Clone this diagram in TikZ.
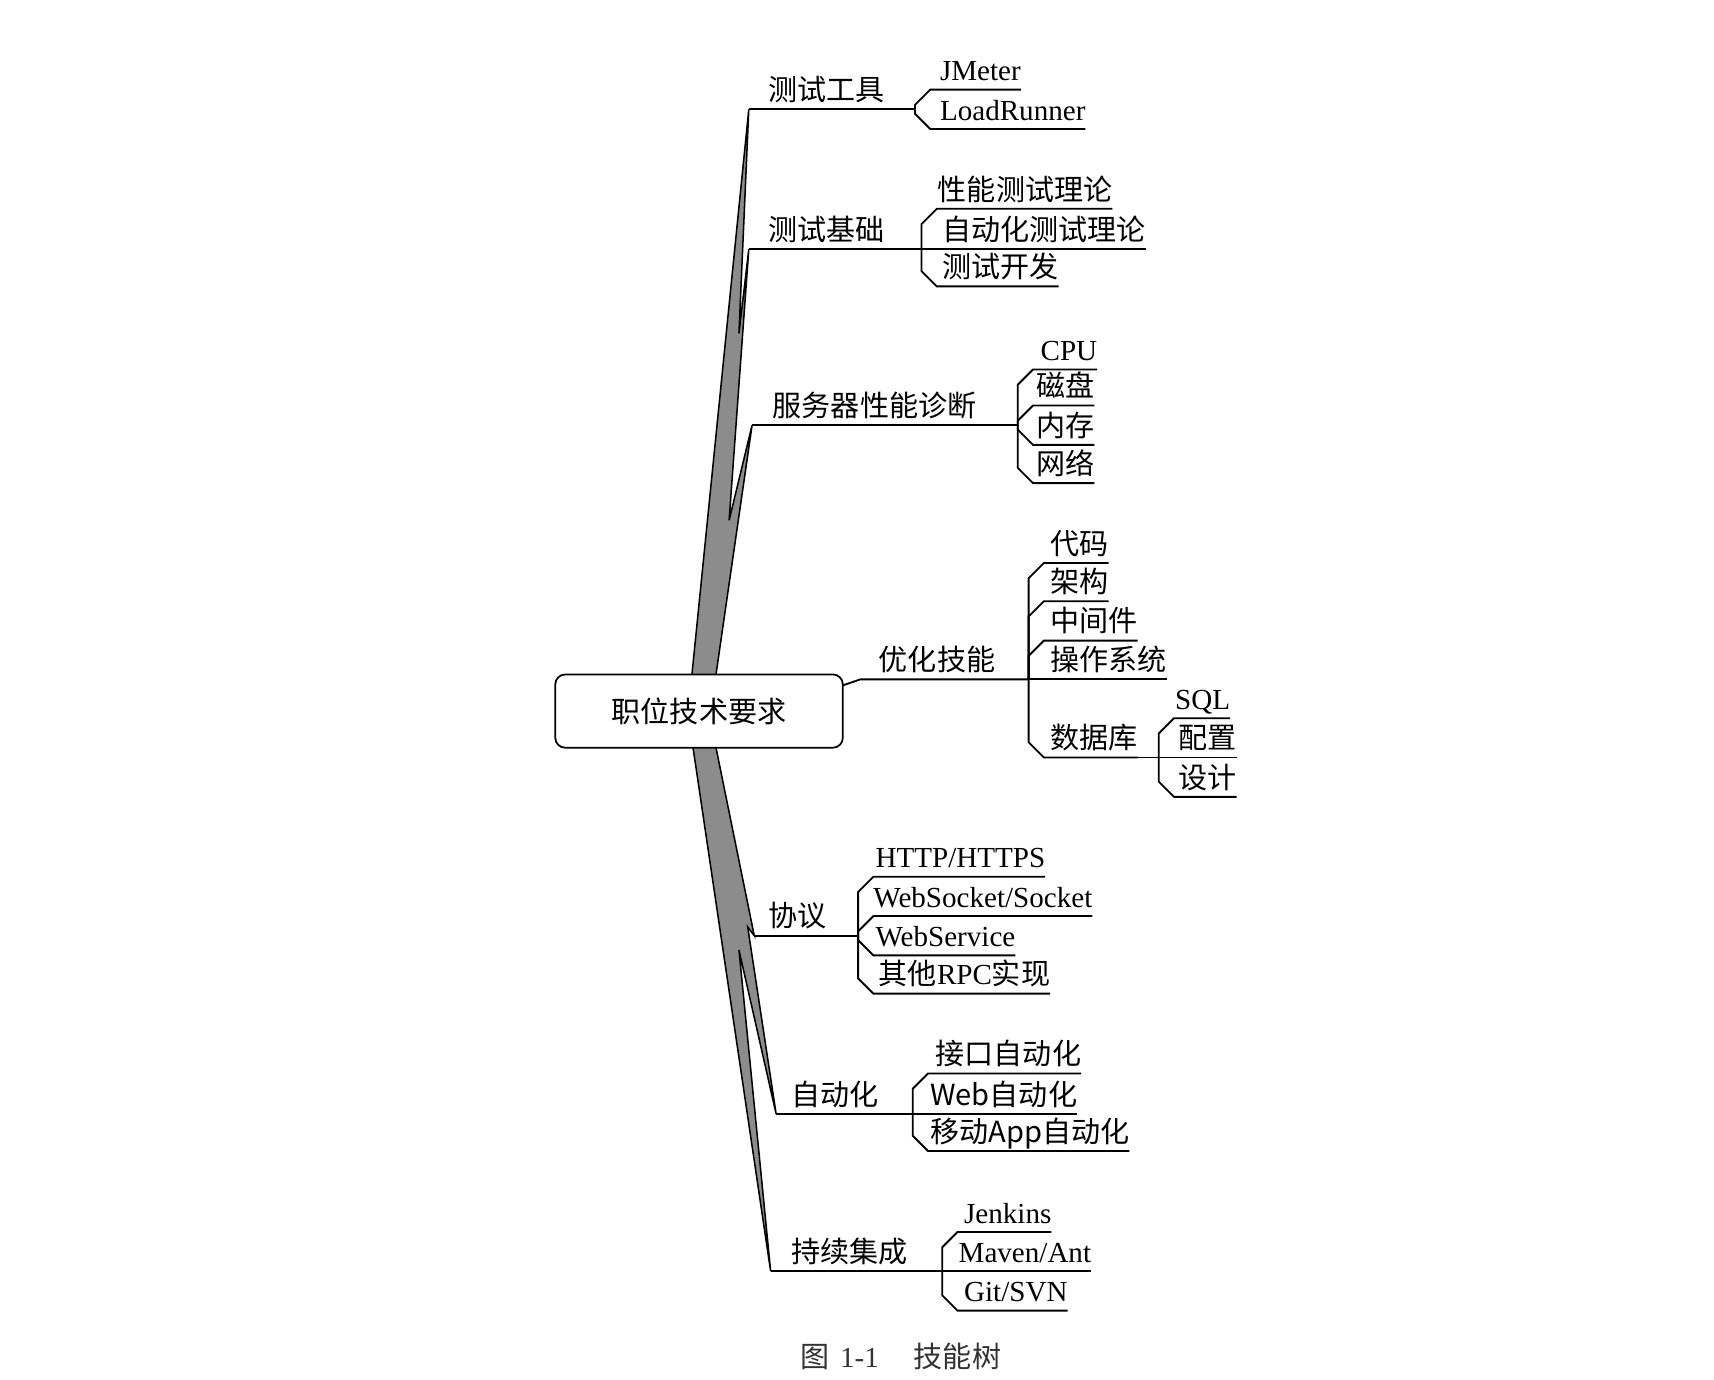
\documentclass[tikz,border=0pt]{standalone}
\usepackage{tikz}
\usepackage{fontspec}
\setmainfont{Liberation Serif}
\newfontfamily\cjk{Noto Sans CJK SC}
\definecolor{trunkgrey}{RGB}{140,140,140}
% one child topic: junction, name, text x, underline y, chamfer style, text
\newcommand\mmkid[6]{%
  \node[topic] (#2) at (#3,#4-8) {#6};
  \path (#1 |- #2.base) ++(14,8) coordinate (#2-u);
  \draw[link] (#1) -- ([#5]#2-u) -- (#2-u) -- (#2-u -| #2.east);
}
\begin{document}
\begin{tikzpicture}[x=1pt,y=-1pt,
  every node/.style={inner sep=0pt,outer sep=0pt,font=\fontsize{26.6}{30}\selectfont},
  topic/.style={anchor=base west},
  link/.style={line width=1.7pt},
  chup/.style={xshift=-14pt,yshift=-14pt},
  chdn/.style={xshift=-14pt,yshift=14pt},
  chlv/.style={xshift=-14pt},
  trunk/.style={fill=trunkgrey,draw=black,line width=1.4pt,line join=miter},
  rootbox/.style={draw,line width=1.6pt,rounded corners=9pt,fill=white,
    minimum width=263pt,minimum height=67pt},
]
\useasboundingbox[fill=white] (0,0) rectangle (1568,1262);

% elbow points of the main branches
\coordinate (c1) at (685,100);
\coordinate (c2) at (685,228);
\coordinate (c3) at (688,389);
\coordinate (c5) at (690,856);
\coordinate (c6) at (710,1019);
\coordinate (c7) at (705,1163);

% tapered trunk, upper and lower halves
\path[trunk] (633,640) -- (633,617) -- (c1) -- (676,305) -- (c2) -- (667,476)
  -- (c3) -- (655,617) -- (655,640) -- cycle;
\path[trunk] (634,660) -- (634,684) -- (c7) -- (676,869) -- (c6) -- (684,848)
  -- (c5) -- (655,684) -- (655,660) -- cycle;

% root topic
\node[rootbox] (root) at (639.5,650.5) {\cjk 职位技术要求};

% junctions where the branches meet their children
\coordinate (J1) at (837,100);
\coordinate (J2) at (843,228);
\coordinate (J3) at (931,389);
\coordinate (J4) at (941,621.5);
\coordinate (J4b) at (1060,693);
\coordinate (J5) at (785,856);
\coordinate (J6) at (835,1019);
\coordinate (J7) at (862,1163);

% main branches with their labels
\draw[link] (c1) -- (J1);
\node[topic] (b1) at (703,92) {\cjk 测试工具};
\draw[link] (c2) -- (J2);
\node[topic] (b2) at (703,220) {\cjk 测试基础};
\draw[link] (c3) -- (J3);
\node[topic] (b3) at (707,381) {\cjk 服务器性能诊断};
\draw[link] ([yshift=-10pt]root.north east) -- (787,621.5) -- (J4);
\node[topic] (b4) at (804,613.5) {\cjk 优化技能};
\draw[link] (c5) -- (J5);
\node[topic] (b5) at (703,848) {\cjk 协议};
\draw[link] (c6) -- (J6);
\node[topic] (b6) at (724,1011) {\cjk 自动化};
\draw[link] (c7) -- (J7);
\node[topic] (b7) at (724,1155) {\cjk 持续集成};

% test tools
\mmkid{J1}{jm}{860}{82}{chup}{JMeter}
\mmkid{J1}{lr}{860}{118}{chdn}{LoadRunner}

% test basics
\mmkid{J2}{pt}{858}{191}{chup}{\cjk 性能测试理论}
\mmkid{J2}{at}{862}{228}{chlv}{\cjk 自动化测试理论}
\mmkid{J2}{td}{862}{262}{chdn}{\cjk 测试开发}

% server diagnosis
\mmkid{J3}{cpu}{952}{338}{chup}{CPU}
\mmkid{J3}{disk}{948}{371}{chup}{\cjk 磁盘}
\mmkid{J3}{mem}{948}{407}{chdn}{\cjk 内存}
\mmkid{J3}{net}{948}{442}{chdn}{\cjk 网络}

% tuning skills
\mmkid{J4}{code}{961}{515}{chup}{\cjk 代码}
\mmkid{J4}{arch}{961}{550}{chup}{\cjk 架构}
\mmkid{J4}{mid}{961}{586}{chup}{\cjk 中间件}
\mmkid{J4}{os}{961}{621.5}{chlv}{\cjk 操作系统}
\mmkid{J4}{db}{961}{693}{chdn}{\cjk 数据库}
\draw[link] (db-u) -- (J4b);
\mmkid{J4b}{sql}{1075}{657}{chup}{SQL}
\mmkid{J4b}{cfg}{1078}{693}{chlv}{\cjk 配置}
\mmkid{J4b}{dsg}{1078}{729}{chdn}{\cjk 设计}

% protocols
\mmkid{J5}{http}{801}{802}{chup}{HTTP/HTTPS}
\mmkid{J5}{ws}{799}{838}{chup}{WebSocket/Socket}
\mmkid{J5}{wsv}{801}{874}{chdn}{WebService}
\mmkid{J5}{rpc}{804}{909}{chdn}{{\cjk 其他}RPC{\cjk 实现}}

% automation
\mmkid{J6}{api}{856}{982}{chup}{\cjk 接口自动化}
\mmkid{J6}{web}{851}{1019}{chlv}{\cjk Web自动化}
\mmkid{J6}{app}{851}{1053}{chdn}{\cjk 移动App自动化}

% continuous integration
\mmkid{J7}{jk}{882}{1127}{chup}{Jenkins}
\mmkid{J7}{mvn}{877}{1163}{chlv}{Maven/Ant}
\mmkid{J7}{git}{882}{1199}{chdn}{Git/SVN}

% caption
\node[topic,text=black!80] (cap) at (732,1251)
  {{\cjk 图}\hspace{10pt}1-1\hspace{32pt}{\cjk 技能树}};
\end{tikzpicture}
\end{document}
